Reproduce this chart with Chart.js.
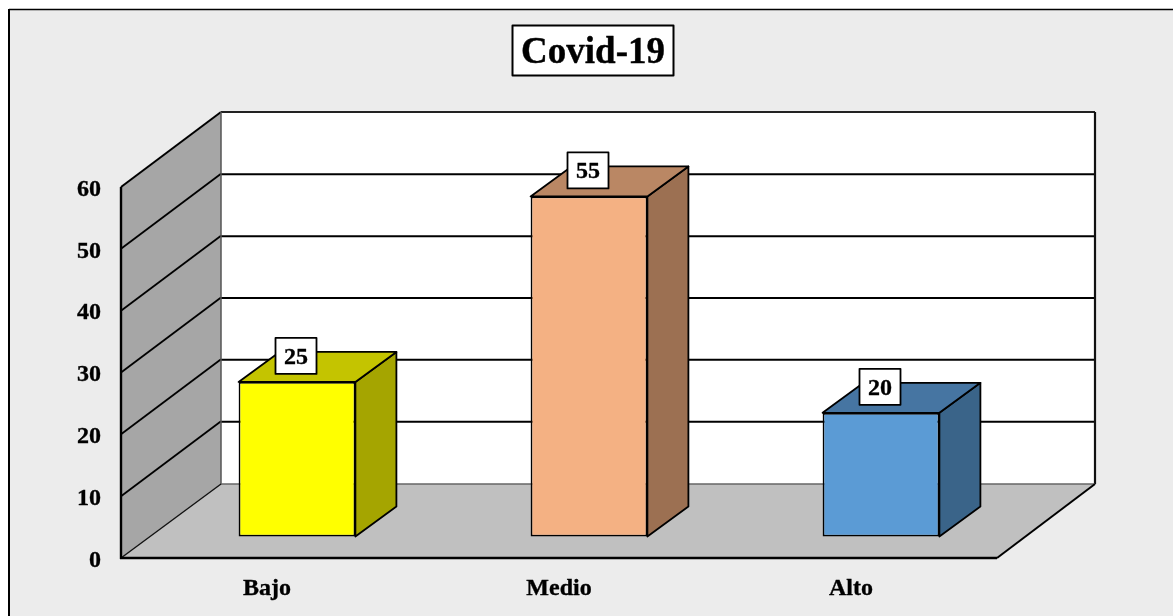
<!DOCTYPE html>
<html>
<head>
<meta charset="utf-8">
<style>html,body{margin:0;padding:0;background:#fff}canvas{display:block}</style>
<script src="https://cdn.jsdelivr.net/npm/chart.js@4"></script>
</head>
<body>
<canvas id="c" width="1173" height="616"></canvas>
<script>
const chartTitle = "Covid-19";
const categories = ["Bajo", "Medio", "Alto"];
const values = [25, 55, 20];
const frontColors = ["#FFFF00", "#F4B183", "#5B9BD5"];
const sideColors = ["#A5A500", "#9C7052", "#3A6489"];
const topColors = ["#C4C400", "#BA8764", "#4675A2"];
const yMax = 60;
const yStep = 10;

const FONT = '"Liberation Serif", "Times New Roman", serif';
// oblique projection of the 3D box
const WALL_DX = 99, WALL_DY = -74, BACK_W_EXTRA = -1;
const BAR_SHIFT_X = 30, BAR_SHIFT_Y = -21.5;
const BAR_DX = 41, BAR_DY = -30;

function poly(ctx, pts, fill, stroke, lw) {
  ctx.beginPath();
  pts.forEach((p, i) => i ? ctx.lineTo(p[0], p[1]) : ctx.moveTo(p[0], p[1]));
  ctx.closePath();
  if (fill) { ctx.fillStyle = fill; ctx.fill(); }
  if (stroke) { ctx.strokeStyle = stroke; ctx.lineWidth = lw; ctx.stroke(); }
}
function line(ctx, x1, y1, x2, y2, color, lw) {
  ctx.beginPath(); ctx.moveTo(x1, y1); ctx.lineTo(x2, y2);
  ctx.strokeStyle = color; ctx.lineWidth = lw; ctx.stroke();
}
function boldText(ctx, s, x, y, sw) {
  ctx.fillStyle = "#000"; ctx.strokeStyle = "#000"; ctx.lineWidth = sw;
  ctx.fillText(s, x, y);
  ctx.strokeText(s, x, y);
}

const box3d = {
  id: "box3d",
  afterLayout(chart) {
    const y = chart.scales.y;
    if (!y._shifted) {
      const orig = y.drawLabels;
      y.drawLabels = function (area) {
        const c = this.ctx;
        c.save(); c.translate(0, 2.5);
        orig.call(this, area);
        c.restore();
      };
      y._shifted = true;
    }
  },
  beforeDraw(chart) {
    const { ctx, chartArea: a, scales: { y } } = chart;
    ctx.save();
    // panel
    ctx.fillStyle = "#ECECEC";
    ctx.fillRect(9, 10, chart.width - 9, chart.height - 10);
    line(ctx, 9, 9.5, chart.width, 9.5, "#000", 1.5);
    line(ctx, 9, 9, 9, chart.height, "#000", 2);
    const x0 = a.left, x1 = a.right, y0 = y.getPixelForValue(0), yT = y.getPixelForValue(yMax);
    const bx0 = x0 + WALL_DX + 1, bx1 = x1 + WALL_DX + BACK_W_EXTRA + 0;
    const by0 = y0 + WALL_DY, byT = yT + WALL_DY - 1;
    // back wall
    poly(ctx, [[bx0, byT], [bx1, byT], [bx1, by0], [bx0, by0]], "#FFFFFF");
    // left wall
    poly(ctx, [[x0, y0], [x0, yT], [bx0, byT], [bx0, by0]], "#A6A6A6");
    // floor
    poly(ctx, [[x0, y0], [bx0, by0], [bx1, by0], [x1, y0]], "#C0C0C0");
    // grid
    for (let v = yStep; v < yMax; v += yStep) {
      const py = y.getPixelForValue(v);
      line(ctx, x0, py, bx0, py + WALL_DY - 1, "#000", 1.8);
      line(ctx, bx0, py + WALL_DY - 0.5, bx1, py + WALL_DY - 0.5, "#000", 2);
    }
    // edges
    line(ctx, x0, yT, bx0, byT, "#000", 2);
    line(ctx, bx0, byT, bx1, byT, "#222", 2.2);
    line(ctx, bx1, byT, bx1, by0, "#111", 2.2);
    line(ctx, bx0, byT, bx0, by0, "#555", 1.5);
    line(ctx, bx0, by0, bx1, by0, "#666", 1.4);
    line(ctx, x0, y0, bx0, by0, "#111", 1.4);
    line(ctx, x1, y0, bx1, by0, "#000", 2);
    line(ctx, x0, yT, x0, y0 + 1, "#000", 2.4);
    line(ctx, x0 - 1, y0, x1, y0, "#000", 2.4);
    ctx.restore();
  },
  beforeDatasetDraw(chart) {
    chart.ctx.save();
    chart.ctx.translate(BAR_SHIFT_X, BAR_SHIFT_Y);
  },
  afterDatasetDraw(chart) {
    chart.ctx.restore();
  },
  afterDatasetsDraw(chart) {
    const { ctx } = chart;
    const bars = chart.getDatasetMeta(0).data;
    ctx.save();
    ctx.lineJoin = "round";
    bars.forEach((b, i) => {
      const l = b.x - b.width / 2 + BAR_SHIFT_X, r = b.x + b.width / 2 + BAR_SHIFT_X;
      const t = b.y + BAR_SHIFT_Y, bt = b.base + BAR_SHIFT_Y;
      poly(ctx, [[r, t], [r + BAR_DX, t + BAR_DY], [r + BAR_DX, bt + BAR_DY], [r, bt]], sideColors[i], "#000", 1.8);
      poly(ctx, [[l, t], [l + BAR_DX, t + BAR_DY], [r + BAR_DX, t + BAR_DY], [r, t]], topColors[i], "#000", 1.8);
    });
    // value labels
    ctx.font = "bold 24px " + FONT;
    ctx.textAlign = "center";
    ctx.textBaseline = "middle";
    bars.forEach((b, i) => {
      const cx = b.x + BAR_SHIFT_X - 1, cy = b.y + BAR_SHIFT_Y - 26;
      ctx.fillStyle = "#fff";
      ctx.fillRect(cx - 20.5, cy - 18, 41, 36);
      ctx.strokeStyle = "#000"; ctx.lineWidth = 1.8;
      ctx.strokeRect(cx - 20.5, cy - 18, 41, 36);
      boldText(ctx, String(values[i]), cx, cy + 1.5, 0.35);
    });
    // title
    ctx.fillStyle = "#fff";
    ctx.fillRect(512.5, 25.5, 161, 50);
    ctx.strokeStyle = "#000"; ctx.lineWidth = 2;
    ctx.strokeRect(512.5, 25.5, 161, 50);
    ctx.font = "bold 37px " + FONT;
    boldText(ctx, chartTitle, 593, 53, 0.4);
    ctx.restore();
  }
};

new Chart(document.getElementById("c"), {
  type: "bar",
  data: {
    labels: categories,
    datasets: [{
      data: values,
      backgroundColor: frontColors,
      borderColor: "#000",
      borderWidth: 1.8,
      borderSkipped: false,
      categoryPercentage: 1,
      barPercentage: 0.4,
      clip: false
    }]
  },
  options: {
    responsive: false,
    animation: false,
    layout: { padding: { left: 0, right: 176, top: 187, bottom: 0 } },
    plugins: { legend: { display: false }, title: { display: false }, tooltip: { enabled: false } },
    scales: {
      x: {
        offset: true,
        grid: { display: false, drawTicks: false },
        border: { display: false },
        ticks: { color: "#000", padding: 16, maxRotation: 0, textStrokeColor: "#000", textStrokeWidth: 0.35, font: { family: FONT, size: 24, weight: "bold" } },
        afterFit(s) { s.height = 58; }
      },
      y: {
        min: 0, max: yMax,
        grid: { display: false, drawTicks: false },
        border: { display: false },
        ticks: { stepSize: yStep, color: "#000", padding: 20, textStrokeColor: "#000", textStrokeWidth: 0.35, font: { family: FONT, size: 24, weight: "bold" } },
        afterFit(s) { s.width = 121; }
      }
    }
  },
  plugins: [box3d]
});
</script>
</body>
</html>
